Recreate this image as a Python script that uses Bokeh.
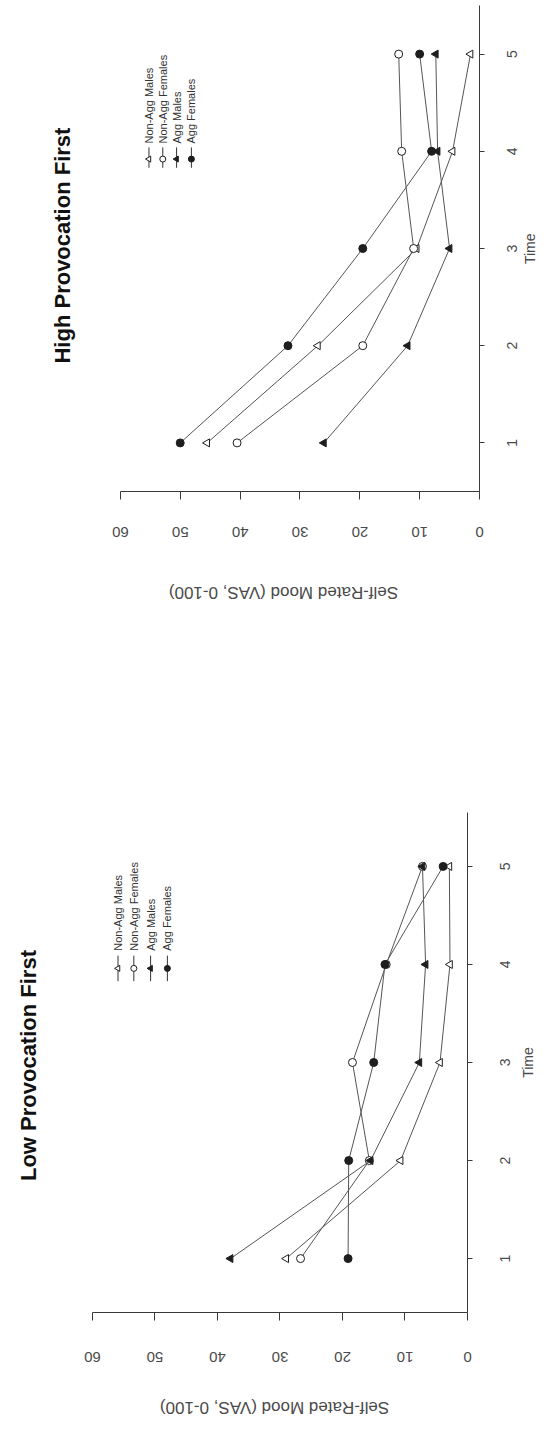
import math
from bokeh.plotting import figure
from bokeh.models import (Range1d, FixedTicker, Label, LinearAxis,
                          CustomLabelingPolicy)
from bokeh.embed import file_html
from bokeh.resources import INLINE

# ---------------- data ----------------
times = [1, 2, 3, 4, 5]
series_names = ["Non-Agg Males", "Non-Agg Females", "Agg Males", "Agg Females"]

high_non_agg_males = [45.5, 27.0, 10.5, 4.5, 1.5]
high_non_agg_females = [40.5, 19.5, 11.0, 13.0, 13.5]
high_agg_males = [26.0, 12.0, 5.0, 7.0, 7.3]
high_agg_females = [50.0, 32.0, 19.5, 8.0, 10.0]

low_non_agg_males = [29.0, 10.7, 4.4, 2.8, 2.9]
low_non_agg_females = [26.7, 15.7, 18.4, 13.0, 7.2]
low_agg_males = [37.9, 15.5, 7.7, 6.7, 7.2]
low_agg_females = [19.1, 19.0, 15.0, 13.2, 3.9]

mood_ticks = [0, 10, 20, 30, 40, 50, 60]
mood_tick_labels = ["0", "10", "20", "30", "40", "50", "60"]
time_ticks = [1, 2, 3, 4, 5]
time_tick_labels = ["1", "2", "3", "4", "5"]
x_title = "Self-Rated Mood (VAS, 0-100)"
t_title = "Time"

# ---------------- styles ----------------
MARKERS = ["triangle", "circle", "triangle", "circle"]
FILLS = ["white", "white", "#1e1e1e", "#1e1e1e"]
ANGLES = [math.pi / 2, 0, math.pi / 2, 0]
LINE_COLOR = "#555555"
AX_COLOR = "#3a3a3a"
TXT_COLOR = "#4a4a4a"
FONT = "Liberation Sans"
W = 549
PAD_PX = 11  # frame room left of the 60 tick so its rotated label fits

# approximate Arial / Liberation Sans advance widths (em), used only to
# centre rotated texts (Bokeh anchors rotated tick labels at one end)
_REG = {c: 0.556 for c in "0123456789abdeghnopqu"}
_REG.update({" ": 0.278, "-": 0.333, "(": 0.333, ")": 0.333, ",": 0.278,
             "i": 0.222, "l": 0.222, "t": 0.278, "f": 0.278, "r": 0.333,
             "m": 0.833, "s": 0.5, "c": 0.5, "v": 0.5, "w": 0.722,
             "S": 0.667, "R": 0.722, "M": 0.833, "V": 0.667, "A": 0.667,
             "T": 0.611, "F": 0.611})
_BOLD = {c: 0.611 for c in "0123456789bdghnopqu"}
_BOLD.update({" ": 0.278, "a": 0.556, "c": 0.556, "e": 0.556, "s": 0.556,
              "v": 0.556, "i": 0.278, "l": 0.278, "t": 0.333, "r": 0.389,
              "w": 0.778, "H": 0.722, "P": 0.667, "F": 0.611, "L": 0.611})

NO_LABELS = "for (const i of indices) { indices.unset(i) }\nreturn indices"


def text_len(s, size, bold=False):
    tab = _BOLD if bold else _REG
    return sum(tab.get(c, 0.6) for c in s) * size


def label_axis(positions, texts, orient, standoff, size, bold=False,
               color=TXT_COLOR):
    ax = LinearAxis(ticker=FixedTicker(ticks=positions),
                    major_label_overrides=dict(zip(positions, texts)))
    ax.axis_line_color = None
    ax.major_tick_line_color = None
    ax.minor_tick_line_color = None
    ax.major_tick_out = 0
    ax.major_tick_in = 0
    ax.minor_tick_out = 0
    ax.minor_tick_in = 0
    ax.major_label_orientation = orient
    ax.major_label_standoff = standoff
    ax.major_label_text_font = FONT
    ax.major_label_text_font_size = f"{size}px"
    ax.major_label_text_color = color
    if bold:
        ax.major_label_text_font_style = "bold"
    return ax


def make_chart(title, series, height, left, right, top, bottom, t_lo, t_hi,
               legend_x, legend_t, title_x, title_c, xlab_standoff,
               xtitle_c, xtitle_standoff, tlab_standoff, ttitle_standoff):
    frame_w60 = W - left - right          # width spanned by mood 60..0
    frame_h = height - top - bottom
    ppm = frame_w60 / 60.0                # pixels per mood unit
    ppt = frame_h / (t_hi - t_lo)         # pixels per time unit
    x0 = 60 + PAD_PX / ppm
    f_left = left - PAD_PX

    def mx(px):  # page-x pixel -> mood value
        return 60 - (px - left) / ppm

    p = figure(width=W, height=height, x_range=Range1d(x0, 0),
               y_range=Range1d(t_lo, t_hi), output_backend="svg",
               toolbar_location=None, x_axis_location="below",
               y_axis_location="right", min_border_left=f_left,
               min_border_right=right, min_border_top=top,
               min_border_bottom=bottom)
    p.grid.visible = False
    p.outline_line_color = None
    p.background_fill_color = "white"
    p.border_fill_color = "white"

    for ax, ticks, tick_len in ((p.xaxis[0], mood_ticks, 8),
                                (p.yaxis[0], time_ticks, 5)):
        ax.ticker = FixedTicker(ticks=ticks)
        ax.major_tick_out = tick_len
        ax.major_tick_in = 0
        ax.minor_tick_out = 0
        ax.minor_tick_in = 0
        ax.major_label_standoff = 0
        ax.major_label_policy = CustomLabelingPolicy(code=NO_LABELS)
        ax.axis_line_color = AX_COLOR
        ax.major_tick_line_color = AX_COLOR
    p.xaxis[0].bounds = (0, 60)

    # tick labels (upside-down for mood, bottom-to-top for time), centred
    fs = 15
    mood_pos = [round(v + text_len(s, fs) / 2 / ppm, 4)
                for v, s in zip(mood_ticks, mood_tick_labels)]
    p.add_layout(label_axis(mood_pos, mood_tick_labels, math.pi,
                            xlab_standoff, fs), "below")
    tfs = 14
    time_pos = [round(v - text_len(s, tfs) / 2 / ppt, 4)
                for v, s in zip(time_ticks, time_tick_labels)]
    p.add_layout(label_axis(time_pos, time_tick_labels, math.pi / 2,
                            tlab_standoff, tfs), "right")

    # axis titles and chart title
    xt_fs = 17
    xt_pos = round(xtitle_c + text_len(x_title, xt_fs) / 2 / ppm, 4)
    p.add_layout(label_axis([xt_pos], [x_title], math.pi, xtitle_standoff,
                            xt_fs), "below")
    tt_fs = 14
    tt_pos = round(3 - text_len(t_title, tt_fs) / 2 / ppt, 4)
    p.add_layout(label_axis([tt_pos], [t_title], math.pi / 2,
                            ttitle_standoff, tt_fs), "right")
    ti_fs = 22
    ti_pos = round(title_c + text_len(title, ti_fs, True) / 2 / ppt, 4)
    p.add_layout(label_axis([ti_pos], [title], math.pi / 2, f_left - title_x,
                            ti_fs, bold=True, color="#111111"), "left")

    for vals, mk, fill, ang in zip(series, MARKERS, FILLS, ANGLES):
        p.line(vals, times, line_color=LINE_COLOR, line_width=1)
        p.scatter(vals, times, marker=mk, size=8, angle=ang,
                  fill_color=fill, line_color="#1e1e1e", line_width=1)

    # legend (rotated with the chart)
    seg_lo, seg_hi, mark_t, text_t = legend_t
    for i, (name, mk, fill, ang) in enumerate(zip(series_names, MARKERS, FILLS, ANGLES)):
        lx = mx(legend_x[i])
        p.line([lx, lx], [seg_lo, seg_hi], line_color="#333333", line_width=1)
        p.scatter([lx], [mark_t], marker=mk, size=6, angle=ang,
                  fill_color=fill, line_color="#1e1e1e")
        p.add_layout(Label(x=lx, y=text_t, text=name, angle=math.pi / 2,
                           text_align="left", text_baseline="middle",
                           text_font=FONT, text_font_size="11px",
                           text_color="#333333"))
    return p


top_h = 640
p1 = make_chart(
    "High Provocation First",
    [high_non_agg_males, high_non_agg_females, high_agg_males, high_agg_females],
    top_h, 120, 65, 5, top_h - 491, 0.5, 5.5,
    [149, 163, 177, 192], (3.83, 4.04, 3.92, 4.08),
    title_x=62, title_c=3.03, xlab_standoff=21,
    xtitle_c=32.9, xtitle_standoff=48, tlab_standoff=19, ttitle_standoff=5)

bot_h = 1429 - top_h
b_top = 812 - top_h
b_bot = 1319 - top_h
p2 = make_chart(
    "Low Provocation First",
    [low_non_agg_males, low_non_agg_females, low_agg_males, low_agg_females],
    bot_h, 87, W - 467, b_top, bot_h - b_bot, 0.45, 5.55,
    [113, 129, 146, 163], (3.83, 4.09, 3.96, 4.14),
    title_x=23, title_c=2.985, xlab_standoff=25,
    xtitle_c=31.0, xtitle_standoff=38, tlab_standoff=24, ttitle_standoff=10)

open("out.html", "w").write(file_html([p1, p2], INLINE))
